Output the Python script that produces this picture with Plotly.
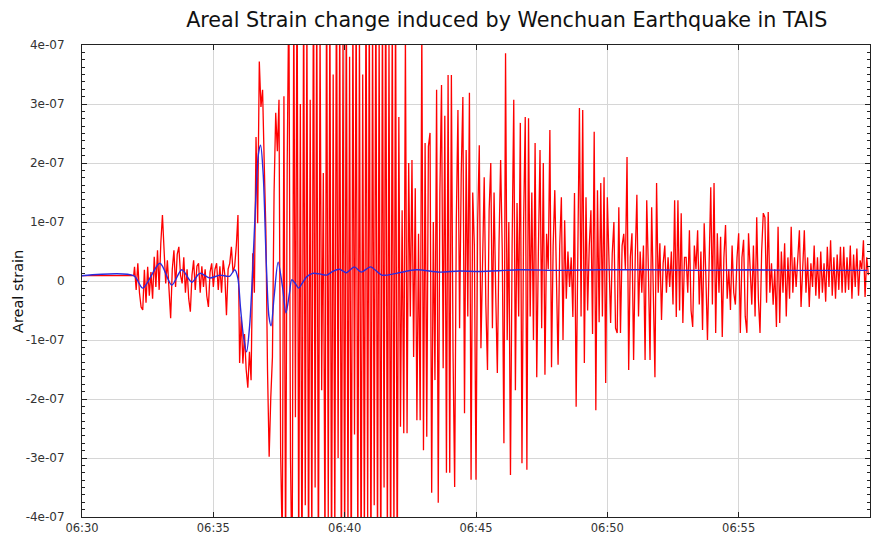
import pandas as pd
import plotly.graph_objects as go

# ---- data -----------------------------------------------------------------
DAY = "2008-05-12"
TITLE = "Areal Strain change induced by Wenchuan Earthquake in TAIS"
Y_LABEL = "Areal strain"

# y ticks
tick_vals = [-4e-07, -3e-07, -2e-07, -1e-07, 0, 1e-07, 2e-07, 3e-07, 4e-07]
tick_text = ["-4e-07", "-3e-07", "-2e-07", "-1e-07", "0", "1e-07", "2e-07", "3e-07", "4e-07"]

# quiet level before the waves arrive (nanostrain)
pre_level = 9

# raw areal strain record (nanostrain), one row per minute starting 06:32:00,
# samples every 3.75 s
red_start = "06:32:00"
red_step_s = 3.75
red_rows = [
    [24, -15, 30, -20, -44, -49, 19, -37, 24, -25, 15, -30, 41, -10, 52, -15],          # 06:32
    [64, 112, 52, -4, 35, -20, -63, 20, 52, -10, 45, 58, 10, -4, 40, -20],              # 06:33
    [20, -30, -52, 10, 35, -15, 25, 30, -20, 25, -10, 20, -25, -44, 15, 30],            # 06:34
    [-10, 20, 30, -15, 25, -20, 35, 10, -58, 20, 30, 58, 15, 25, 60, 112],              # 06:35
    [-139, -60, -140, -90, -150, -181, -120, -168, 47, -20, 244, 98, 372, 295, 324, 200],  # 06:36
    [86, -151, -298, -197, -129, 150, 285, 220, 307, -292, -450, 313, -480, 200, 500, -300],  # 06:37
    [-520, 480, -231, 550, -480, 300, -550, 520, -380, 450, -500, 307, -460, 560, -350, 490],  # 06:38
    [-520, 430, -185, 183, -470, 540, -400, 480, -510, 350, -440, 560, -300, 470, -530, 420],  # 06:39
    [-480, 520, -430, 380, -540, 460, -260, 500, -470, 430, -520, 350, -450, 540, -400, 480],  # 06:40
    [-510, 450, -380, 530, -470, 420, -530, 480, -350, 560, -460, 400, -520, 470, -440, 500],  # 06:41
    [-520, 278, -247, 120, -258, 420, -258, 200, -60, 205, -129, 157, -236, 80, -236, 430],   # 06:42
    [-287, 234, -264, 228, 251, -359, 100, -168, 324, -376, 150, 332, -148, 280, -325, 349],  # 06:43
    [-325, 349, -120, -349, 100, 290, -80, 180, 312, -224, 222, -60, 319, -337, 150, 60],     # 06:44
    [-337, 100, 230, -114, 50, 176, -40, -151, 120, 200, -80, 150, -20, -156, 60, 205],       # 06:45
    [50, -275, 386, -100, 100, -329, 60, 307, -185, 132, -60, 268, -309, 100, 278, -320],     # 06:46
    [276, -60, 150, -100, 234, -163, 50, 222, -80, 200, -159, 80, 20, 256, -146, 60],         # 06:47
    [154, -20, -142, 60, 142, -100, 103, -30, 50, -10, 40, -61, 149, -213, 20, 293],          # 06:48
    [-60, 290, -139, 142, -50, 60, 120, -90, 253, -219, 154, -70, 166, -60, 176, -173],       # 06:49
    [142, 30, -71, 47, 100, -80, -88, 125, -88, 60, 80, 20, 210, -151, 40, 81],               # 06:50
    [-134, 40, 146, -60, 50, -20, 60, -134, 137, 20, -134, 125, -40, -163, 166, -20],         # 06:51
    [64, -66, 30, 60, -20, 40, -10, 50, -40, 137, -61, 137, -50, 115, -71, 40],               # 06:52
    [40, -20, 86, -50, -78, 60, 20, 86, -40, 50, -83, 98, 10, -100, 30, 159],                 # 06:53
    [-40, 166, -88, 81, -20, 75, -95, 40, 95, -30, 20, -49, 60, -20, -40, 40],                # 06:54
    [81, -88, 40, 70, -60, -88, 81, 20, -40, 60, -60, 108, -30, -88, 50, 115],                # 06:55
    [108, -37, 117, -20, 30, -40, 20, -78, 92, -71, 50, -20, 64, -60, 40, -30],               # 06:56
    [92, -20, 40, -10, 50, 86, -44, 30, 86, -20, 40, -44, 30, -10, 60, -25],                  # 06:57
    [40, -30, 50, -20, 30, -35, 58, -10, 69, -25, 40, -30, 45, -15, 58, -20],                 # 06:58
    [58, -20, 40, -15, 60, -30, 45, -10, 55, -25, 35, 20, 69, -27, 40, 10],                   # 06:59
]

# low-pass filtered strain (nanostrain); times are seconds after 06:30:00
blue_offsets_s = [0, 118, 139, 178, 205, 228, 251, 269, 292, 315,
                  337, 349, 356, 362, 369, 376, 383, 390, 397, 403,
                  408, 414, 421, 427, 432, 439, 448, 458, 466, 474,
                  479, 486, 495, 502, 513, 527, 543, 559, 572, 588,
                  604, 622, 638, 659, 685, 718, 764, 816, 862, 907,
                  999, 1090, 1181, 1295, 1409, 1523, 1637, 1794]
blue_vals = [9, 9, -12, 30, -7, 19, -2, 13, 5, 10,
             8, 19, 5, -45, -95, -120, -75, 20, 140, 215,
             230, 180, 30, -60, -76, -25, 32, -10, -54, -20,
             2, -3, -12, -5, 7, 13, 12, 10, 16, 20,
             14, 24, 15, 24, 10, 13, 19, 15, 17, 16,
             19, 18, 19, 19, 18, 19, 18, 18]

# ---- build series ---------------------------------------------------------
NS = 1e-9
origin = pd.Timestamp(f"{DAY} 06:30:00")
t_red0 = pd.Timestamp(f"{DAY} {red_start}")
red_vals = [v for row in red_rows for v in row]
red_t = [origin, t_red0 - pd.Timedelta(seconds=2)] + [
    t_red0 + pd.Timedelta(seconds=red_step_s * i) for i in range(len(red_vals))
]
red_y = [pre_level * NS, pre_level * NS] + [v * NS for v in red_vals]

blue_t = [origin + pd.Timedelta(seconds=s) for s in blue_offsets_s]
blue_y = [v * NS for v in blue_vals]

fig = go.Figure()
fig.add_trace(go.Scatter(x=red_t, y=red_y, mode="lines",
                         line=dict(color="#ff0000", width=1.3),
                         name="raw", hoverinfo="skip"))
fig.add_trace(go.Scatter(x=blue_t, y=blue_y, mode="lines",
                         line=dict(color="#2b2bdc", width=1.4, shape="spline", smoothing=0.8),
                         name="filtered", hoverinfo="skip"))

FONT = "DejaVu Sans, Arial, sans-serif"
axis_color = "#222222"
fig.update_layout(
    width=871, height=536,
    margin=dict(l=82, r=1, t=45, b=19),
    paper_bgcolor="white", plot_bgcolor="white",
    showlegend=False,
    font=dict(family=FONT, size=12, color="#333333"),
    title=dict(text=TITLE, xref="paper", x=0.539, xanchor="center",
               yref="container", y=1 - 20 / 536, yanchor="middle",
               font=dict(family=FONT, size=20.7, color="#111111")),
    annotations=[dict(text=Y_LABEL, textangle=-90, xref="paper", yref="paper",
                      x=(18 - 82) / 788, y=(517 - 292) / 472,
                      xanchor="center", yanchor="middle", showarrow=False,
                      font=dict(family=FONT, size=14.5, color="#111111"))],
)
fig.update_xaxes(
    type="date",
    range=[origin, origin + pd.Timedelta(minutes=30)],
    dtick=300000, tick0=origin, tickformat="%H:%M",
    showgrid=True, gridcolor="#d6d6d6", gridwidth=1,
    showline=True, linecolor=axis_color, linewidth=1, mirror="ticks",
    ticks="inside", ticklen=5, tickcolor=axis_color,
    zeroline=False, tickfont=dict(family=FONT, size=11.5, color="#333333"),
)
fig.update_yaxes(
    range=[-4e-07, 4e-07],
    tickmode="array", tickvals=tick_vals, ticktext=tick_text,
    showgrid=True, gridcolor="#d6d6d6", gridwidth=1,
    showline=True, linecolor=axis_color, linewidth=1, mirror="ticks",
    ticks="inside", ticklen=5, tickcolor=axis_color,
    minor=dict(ticks="inside", ticklen=3, tickcolor=axis_color, dtick=1.25e-08, tick0=0, showgrid=False),
    zeroline=False, ticklabelstandoff=14, tickfont=dict(family=FONT, size=12, color="#333333"),
)

fig.write_html("out.html")
